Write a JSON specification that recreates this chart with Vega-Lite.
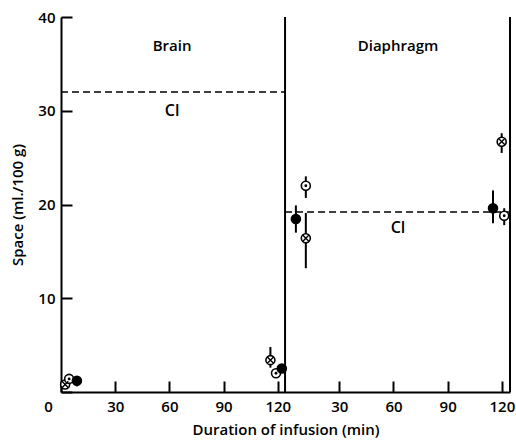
{
  "$schema": "https://vega.github.io/schema/vega-lite/v6.json",
  "width": 449,
  "height": 375,
  "autosize": "none",
  "padding": {"left": 61, "top": 17, "right": 6, "bottom": 51},
  "background": "white",
  "config": {
    "view": {"stroke": null},
    "font": "Open Sans",
    "axis": {
      "grid": false,
      "domainColor": "black",
      "domainWidth": 2,
      "tickColor": "black",
      "tickWidth": 2,
      "tickSize": -11,
      "labelColor": "black",
      "labelFont": "Open Sans",
      "labelFontSize": 15,
      "labelFontWeight": 600,
      "titleColor": "black",
      "titleFont": "Open Sans",
      "titleFontSize": 15,
      "titleFontWeight": 600
    }
  },
  "datasets": {
    "points": [
      {"panel": "Brain", "minutes": 2.3, "space": 0.8, "lo": null, "hi": null, "type": "cross"},
      {"panel": "Brain", "minutes": 4.5, "space": 1.4, "lo": null, "hi": null, "type": "dot"},
      {"panel": "Brain", "minutes": 8.8, "space": 1.2, "lo": 0.6, "hi": 1.6, "type": "filled"},
      {"panel": "Brain", "minutes": 115.9, "space": 3.4, "lo": 2.6, "hi": 4.8, "type": "cross"},
      {"panel": "Brain", "minutes": 119, "space": 2.0, "lo": null, "hi": null, "type": "dot"},
      {"panel": "Brain", "minutes": 122.2, "space": 2.5, "lo": null, "hi": null, "type": "filled"},
      {"panel": "Diaphragm", "minutes": 6, "space": 18.45, "lo": 17.0, "hi": 19.9, "type": "filled"},
      {"panel": "Diaphragm", "minutes": 11.5, "space": 22.0, "lo": 20.7, "hi": 23.0, "type": "dot"},
      {"panel": "Diaphragm", "minutes": 11.5, "space": 16.4, "lo": 13.2, "hi": 19.1, "type": "cross"},
      {"panel": "Diaphragm", "minutes": 115.1, "space": 19.6, "lo": 18.0, "hi": 21.5, "type": "filled"},
      {"panel": "Diaphragm", "minutes": 121.3, "space": 18.8, "lo": 17.8, "hi": 19.6, "type": "dot"},
      {"panel": "Diaphragm", "minutes": 119.9, "space": 26.7, "lo": 25.5, "hi": 27.6, "type": "cross"}
    ],
    "cl": [
      {"panel": "Brain", "space": 32, "labelY": 30, "start": 0, "end": 124, "mid": 61.5},
      {"panel": "Diaphragm", "space": 19.2, "labelY": 17.5, "start": 124, "end": 248.5, "mid": 186.5}
    ]
  },
  "layer": [
    {
      "data": {"name": "cl"},
      "mark": {"type": "rule", "color": "black", "strokeWidth": 2},
      "encoding": {
        "x": {"field": "end", "type": "quantitative", "scale": {"domain": [0, 248.5], "nice": false, "zero": false}},
        "y": {"datum": 0, "type": "quantitative"},
        "y2": {"datum": 40}
      }
    },
    {
      "data": {"name": "cl"},
      "mark": {"type": "rule", "color": "black", "strokeWidth": 1.6, "strokeDash": [7, 4]},
      "encoding": {
        "x": {"field": "start", "type": "quantitative"},
        "x2": {"field": "end"},
        "y": {"field": "space", "type": "quantitative"}
      }
    },
    {
      "data": {"name": "cl"},
      "mark": {"type": "text", "fontSize": 16, "fontWeight": 600, "color": "black", "font": "Open Sans", "text": "Cl"},
      "encoding": {
        "x": {"field": "mid", "type": "quantitative"},
        "y": {"field": "labelY", "type": "quantitative"}
      }
    },
    {
      "data": {"name": "cl"},
      "mark": {"type": "text", "fontSize": 15, "fontWeight": 600, "color": "black", "font": "Open Sans"},
      "encoding": {
        "x": {"field": "mid", "type": "quantitative"},
        "y": {"datum": 36.9, "type": "quantitative"},
        "text": {"field": "panel"}
      }
    },
    {
      "data": {"name": "points"},
      "transform": [
        {"calculate": "datum.minutes + (datum.panel === 'Diaphragm' ? 124 : 0)", "as": "t"},
        {"filter": "datum.lo != null"}
      ],
      "mark": {"type": "rule", "color": "black", "strokeWidth": 2},
      "encoding": {
        "x": {"field": "t", "type": "quantitative"},
        "y": {"field": "lo", "type": "quantitative"},
        "y2": {"field": "hi"}
      }
    },
    {
      "data": {"name": "points"},
      "transform": [
        {"calculate": "datum.minutes + (datum.panel === 'Diaphragm' ? 124 : 0)", "as": "t"}
      ],
      "mark": {"type": "point", "shape": "circle", "filled": true, "size": 81, "stroke": "black", "strokeWidth": 1.6, "opacity": 1},
      "encoding": {
        "x": {"field": "t", "type": "quantitative"},
        "y": {"field": "space", "type": "quantitative"},
        "fill": {"field": "type", "type": "nominal", "scale": {"domain": ["filled", "dot", "cross"], "range": ["black", "white", "white"]}, "legend": null}
      }
    },
    {
      "data": {"name": "points"},
      "transform": [
        {"calculate": "datum.minutes + (datum.panel === 'Diaphragm' ? 124 : 0)", "as": "t"},
        {"filter": "datum.type === 'dot'"}
      ],
      "mark": {"type": "point", "shape": "circle", "filled": true, "size": 8, "color": "black", "opacity": 1},
      "encoding": {
        "x": {"field": "t", "type": "quantitative"},
        "y": {"field": "space", "type": "quantitative"}
      }
    },
    {
      "data": {"name": "points"},
      "transform": [
        {"calculate": "datum.minutes + (datum.panel === 'Diaphragm' ? 124 : 0)", "as": "t"},
        {"filter": "datum.type === 'cross'"}
      ],
      "mark": {"type": "point", "shape": "M-0.7,-0.7L0.7,0.7M-0.7,0.7L0.7,-0.7", "filled": false, "size": 81, "stroke": "black", "strokeWidth": 1.4, "opacity": 1},
      "encoding": {
        "x": {
          "field": "t",
          "type": "quantitative",
          "axis": {
            "title": "Duration of infusion (min)",
            "titleColor": "black",
            "titlePadding": 8,
            "values": [0, 30, 60, 90, 120, 154, 184, 214, 244],
            "labelExpr": "datum.value > 124 ? format(datum.value - 124, 'd') : datum.label",
            "labelFlush": false,
            "labelPadding": 18,
            "labelOffset": {"condition": {"test": "datum.value == 0", "value": -13}, "value": 0}
          }
        },
        "y": {
          "field": "space",
          "type": "quantitative",
          "scale": {"domain": [0, 40], "nice": false},
          "axis": {
            "title": "Space (ml./100 g)",
            "titleColor": "black",
            "values": [0, 10, 20, 30, 40],
            "labelExpr": "datum.value == 0 ? '' : datum.label",
            "labelPadding": 17,
            "titlePadding": 12
          }
        }
      }
    }
  ]
}
